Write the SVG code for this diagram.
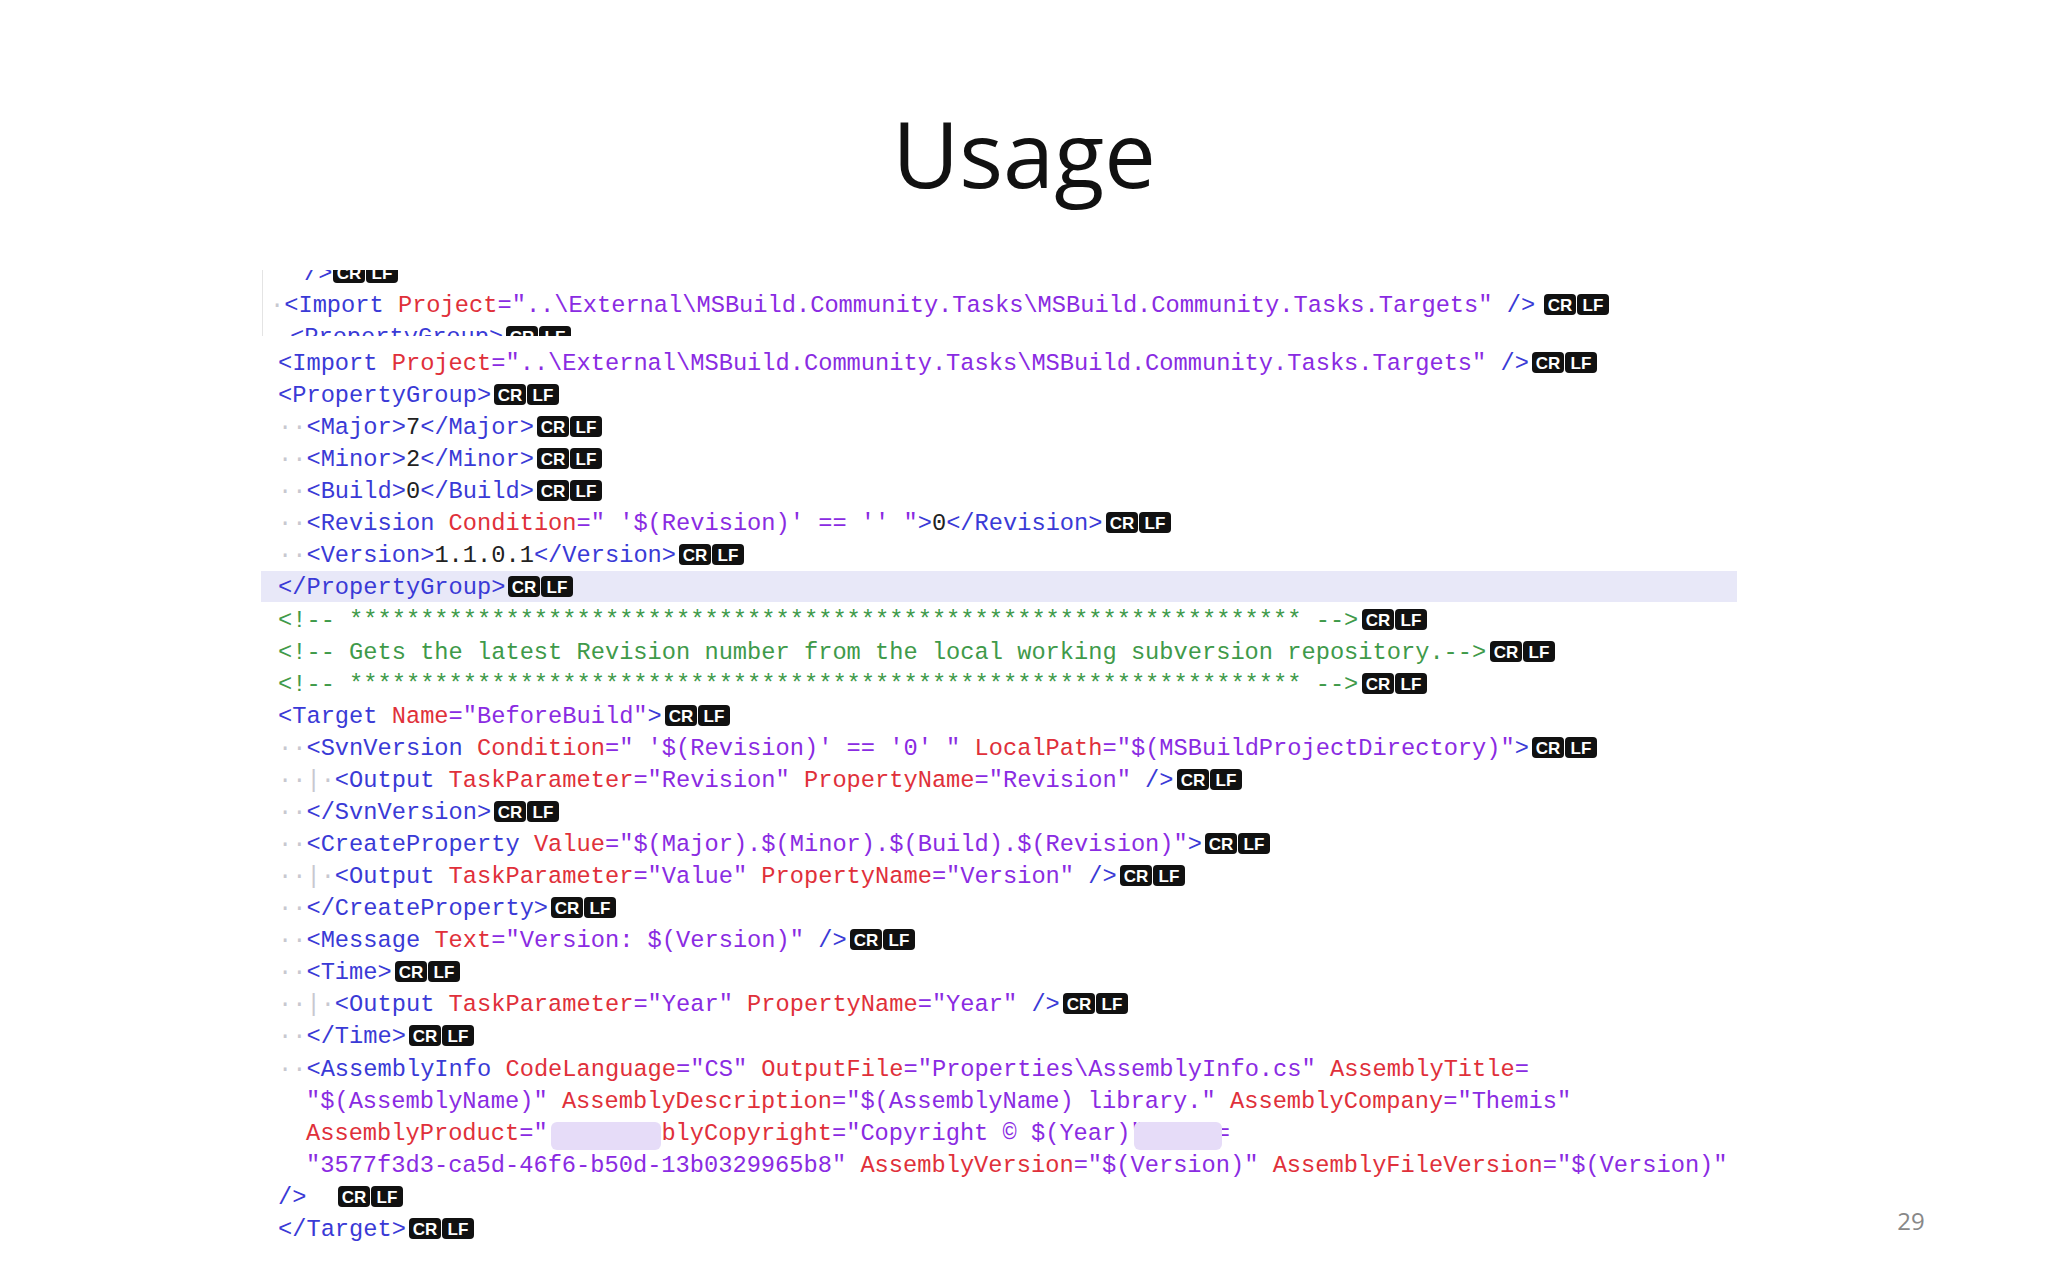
<svg xmlns="http://www.w3.org/2000/svg" xmlns:xlink="http://www.w3.org/1999/xlink" width="2048" height="1280" viewBox="0 0 2048 1280" xml:space="preserve">
<style>
.code{font-family:"Liberation Mono","DejaVu Sans Mono",monospace;font-size:23.7px;fill:#3a3ad6}
.t{fill:#3a3ad6}.a{fill:#e0303a}.v{fill:#8a2be2}.c{fill:#3f9a4a}.d{fill:#c8c8d0}.k{fill:#222}
.cr{font-family:"Liberation Sans",Arial,sans-serif;font-size:17px;font-weight:bold;fill:#fff}
</style>
<defs>
<g id="crlf"><rect x="0" y="0" width="32" height="21" rx="4" fill="#111"/><rect x="33" y="0" width="32" height="21" rx="4" fill="#111"/><text class="cr" x="16" y="17" text-anchor="middle">CR</text><text class="cr" x="49" y="17" text-anchor="middle">LF</text></g>
<clipPath id="snip"><rect x="262" y="270" width="1360" height="66"/></clipPath>
</defs>
<rect width="2048" height="1280" fill="#fff"/>
<text x="1024" y="188" text-anchor="middle" font-family="'Open Sans','Liberation Sans',sans-serif" font-size="92" fill="#111">Usage</text>
<g id="snippet" clip-path="url(#snip)">
<line x1="262" y1="270" x2="262" y2="336" stroke="#e4e4e4" stroke-width="2"/>
<text class="code" x="304" y="280"><tspan class="t">/&gt;</tspan></text><use xlink:href="#crlf" x="333" y="262"/>
<text class="code" x="270" y="312"><tspan class="d">·</tspan><tspan class="t">&lt;Import </tspan><tspan class="a">Project</tspan><tspan class="v">="..\External\MSBuild.Community.Tasks\MSBuild.Community.Tasks.Targets"</tspan><tspan class="t"> /&gt;</tspan></text><use xlink:href="#crlf" x="1544" y="294"/>
<text class="code" x="290" y="344"><tspan class="t">&lt;PropertyGroup&gt;</tspan></text><use xlink:href="#crlf" x="506" y="326"/>
</g>
<rect x="261" y="571" width="1476" height="31" fill="#e8e8f8"/>
<g id="code" class="code">
<text x="278" y="370"><tspan class="t">&lt;Import </tspan><tspan class="a">Project</tspan><tspan class="v">="..\External\MSBuild.Community.Tasks\MSBuild.Community.Tasks.Targets"</tspan><tspan class="t"> /&gt;</tspan></text>
<text x="278" y="402"><tspan class="t">&lt;PropertyGroup&gt;</tspan></text>
<text x="278" y="434"><tspan class="d">··</tspan><tspan class="t">&lt;Major&gt;</tspan><tspan class="k">7</tspan><tspan class="t">&lt;/Major&gt;</tspan></text>
<text x="278" y="466"><tspan class="d">··</tspan><tspan class="t">&lt;Minor&gt;</tspan><tspan class="k">2</tspan><tspan class="t">&lt;/Minor&gt;</tspan></text>
<text x="278" y="498"><tspan class="d">··</tspan><tspan class="t">&lt;Build&gt;</tspan><tspan class="k">0</tspan><tspan class="t">&lt;/Build&gt;</tspan></text>
<text x="278" y="530"><tspan class="d">··</tspan><tspan class="t">&lt;Revision </tspan><tspan class="a">Condition</tspan><tspan class="v">=" '$(Revision)' == '' "</tspan><tspan class="t">&gt;</tspan><tspan class="k">0</tspan><tspan class="t">&lt;/Revision&gt;</tspan></text>
<text x="278" y="562"><tspan class="d">··</tspan><tspan class="t">&lt;Version&gt;</tspan><tspan class="k">1.1.0.1</tspan><tspan class="t">&lt;/Version&gt;</tspan></text>
<text x="278" y="594"><tspan class="t">&lt;/PropertyGroup&gt;</tspan></text>
<text x="278" y="627" class="c">&lt;!-- ******************************************************************* --&gt;</text>
<text x="278" y="659" class="c">&lt;!-- Gets the latest Revision number from the local working subversion repository.--&gt;</text>
<text x="278" y="691" class="c">&lt;!-- ******************************************************************* --&gt;</text>
<text x="278" y="723"><tspan class="t">&lt;Target </tspan><tspan class="a">Name</tspan><tspan class="v">="BeforeBuild"</tspan><tspan class="t">&gt;</tspan></text>
<text x="278" y="755"><tspan class="d">··</tspan><tspan class="t">&lt;SvnVersion </tspan><tspan class="a">Condition</tspan><tspan class="v">=" '$(Revision)' == '0' " </tspan><tspan class="a">LocalPath</tspan><tspan class="v">="$(MSBuildProjectDirectory)"</tspan><tspan class="t">&gt;</tspan></text>
<text x="278" y="787"><tspan class="d">··|·</tspan><tspan class="t">&lt;Output </tspan><tspan class="a">TaskParameter</tspan><tspan class="v">="Revision" </tspan><tspan class="a">PropertyName</tspan><tspan class="v">="Revision"</tspan><tspan class="t"> /&gt;</tspan></text>
<text x="278" y="819"><tspan class="d">··</tspan><tspan class="t">&lt;/SvnVersion&gt;</tspan></text>
<text x="278" y="851"><tspan class="d">··</tspan><tspan class="t">&lt;CreateProperty </tspan><tspan class="a">Value</tspan><tspan class="v">="$(Major).$(Minor).$(Build).$(Revision)"</tspan><tspan class="t">&gt;</tspan></text>
<text x="278" y="883"><tspan class="d">··|·</tspan><tspan class="t">&lt;Output </tspan><tspan class="a">TaskParameter</tspan><tspan class="v">="Value" </tspan><tspan class="a">PropertyName</tspan><tspan class="v">="Version"</tspan><tspan class="t"> /&gt;</tspan></text>
<text x="278" y="915"><tspan class="d">··</tspan><tspan class="t">&lt;/CreateProperty&gt;</tspan></text>
<text x="278" y="947"><tspan class="d">··</tspan><tspan class="t">&lt;Message </tspan><tspan class="a">Text</tspan><tspan class="v">="Version: $(Version)"</tspan><tspan class="t"> /&gt;</tspan></text>
<text x="278" y="979"><tspan class="d">··</tspan><tspan class="t">&lt;Time&gt;</tspan></text>
<text x="278" y="1011"><tspan class="d">··|·</tspan><tspan class="t">&lt;Output </tspan><tspan class="a">TaskParameter</tspan><tspan class="v">="Year" </tspan><tspan class="a">PropertyName</tspan><tspan class="v">="Year"</tspan><tspan class="t"> /&gt;</tspan></text>
<text x="278" y="1043"><tspan class="d">··</tspan><tspan class="t">&lt;/Time&gt;</tspan></text>
<text x="278" y="1076"><tspan class="d">··</tspan><tspan class="t">&lt;AssemblyInfo </tspan><tspan class="a">CodeLanguage</tspan><tspan class="v">="CS" </tspan><tspan class="a">OutputFile</tspan><tspan class="v">="Properties\AssemblyInfo.cs" </tspan><tspan class="a">AssemblyTitle</tspan><tspan class="v">=</tspan></text>
<text x="306" y="1108"><tspan class="v">"$(AssemblyName)" </tspan><tspan class="a">AssemblyDescription</tspan><tspan class="v">="$(AssemblyName) library." </tspan><tspan class="a">AssemblyCompany</tspan><tspan class="v">="Themis"</tspan></text>
<text x="306" y="1140"><tspan class="a">AssemblyProduct</tspan><tspan class="v">="        " </tspan><tspan class="a">AssemblyCopyright</tspan><tspan class="v">="Copyright ©      $(Year)" </tspan><tspan class="a">Guid</tspan><tspan class="v">=</tspan></text>
<text x="306" y="1172"><tspan class="v">"3577f3d3-ca5d-46f6-b50d-13b0329965b8" </tspan><tspan class="a">AssemblyVersion</tspan><tspan class="v">="$(Version)" </tspan><tspan class="a">AssemblyFileVersion</tspan><tspan class="v">="$(Version)"</tspan></text>
<text x="278" y="1204"><tspan class="d">  </tspan><tspan class="t">/&gt;</tspan></text>
<text x="278" y="1236"><tspan class="t">&lt;/Target&gt;</tspan></text>
</g>
<rect x="551" y="1122" width="110" height="28" rx="6" fill="#e6dcf8"/>
<rect x="1134" y="1122" width="88" height="28" rx="6" fill="#e6dcf8"/>
<g id="eol">
<use xlink:href="#crlf" x="1532" y="352"/>
<use xlink:href="#crlf" x="494" y="384"/>
<use xlink:href="#crlf" x="537" y="416"/>
<use xlink:href="#crlf" x="537" y="448"/>
<use xlink:href="#crlf" x="537" y="480"/>
<use xlink:href="#crlf" x="1106" y="512"/>
<use xlink:href="#crlf" x="679" y="544"/>
<use xlink:href="#crlf" x="508" y="576"/>
<use xlink:href="#crlf" x="1362" y="609"/>
<use xlink:href="#crlf" x="1490" y="641"/>
<use xlink:href="#crlf" x="1362" y="673"/>
<use xlink:href="#crlf" x="665" y="705"/>
<use xlink:href="#crlf" x="1532" y="737"/>
<use xlink:href="#crlf" x="1177" y="769"/>
<use xlink:href="#crlf" x="494" y="801"/>
<use xlink:href="#crlf" x="1205" y="833"/>
<use xlink:href="#crlf" x="1120" y="865"/>
<use xlink:href="#crlf" x="551" y="897"/>
<use xlink:href="#crlf" x="850" y="929"/>
<use xlink:href="#crlf" x="395" y="961"/>
<use xlink:href="#crlf" x="1063" y="993"/>
<use xlink:href="#crlf" x="409" y="1025"/>
<use xlink:href="#crlf" x="338" y="1186"/>
<use xlink:href="#crlf" x="409" y="1218"/>
</g>
<text x="1911" y="1230" text-anchor="middle" font-family="'Open Sans','Liberation Sans',sans-serif" font-size="24" fill="#888">29</text>
</svg>
